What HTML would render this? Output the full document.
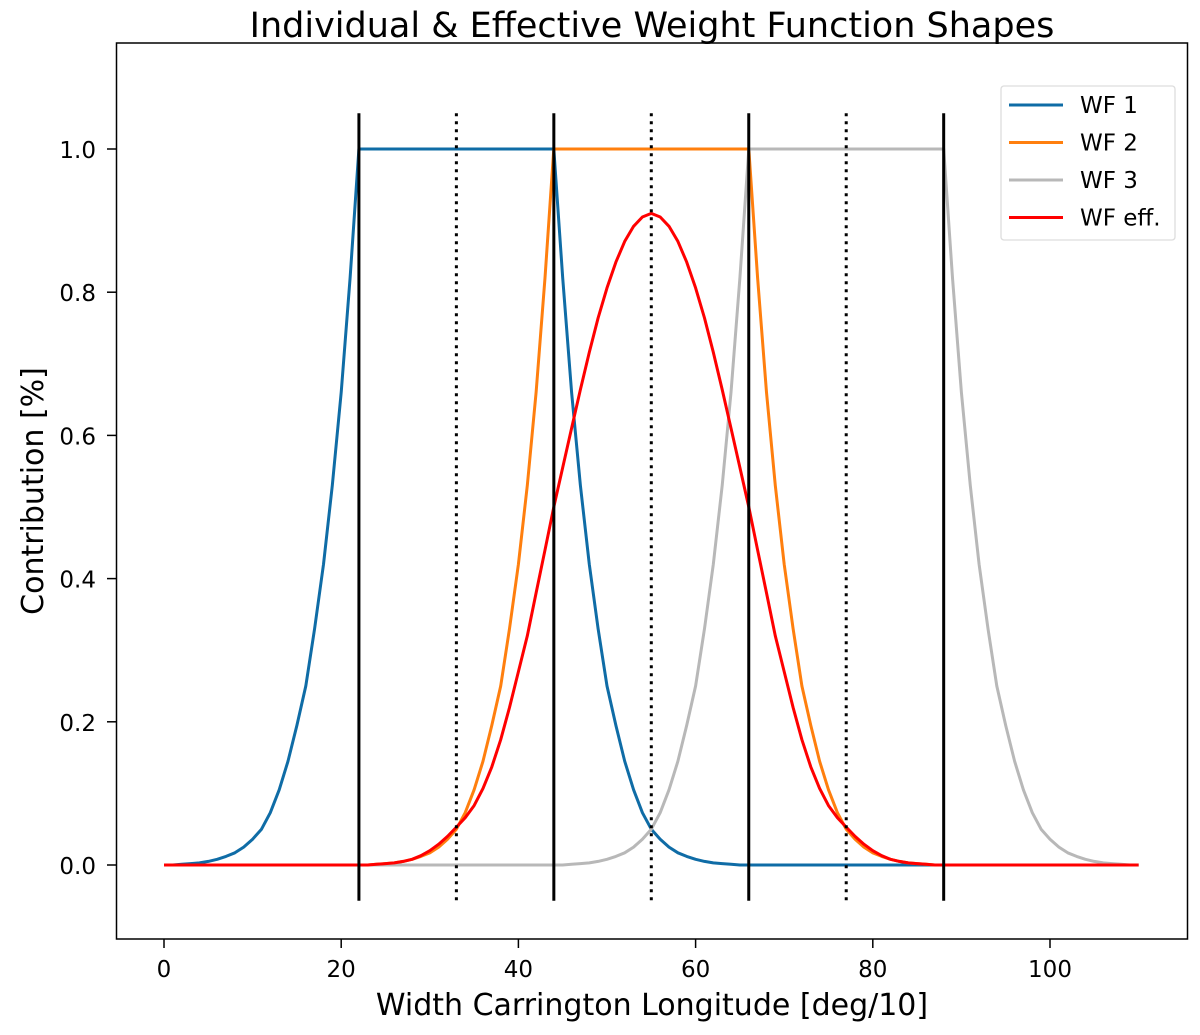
<!DOCTYPE html>
<html><head><meta charset="utf-8"><style>
html,body{margin:0;padding:0;background:#fff;}
svg{display:block;font-family:"DejaVu Sans","Liberation Sans",sans-serif;}
</style></head><body>
<svg id="chart" width="1200" height="1035" viewBox="0 0 1200 1035">
<text x="652" y="37" font-size="35" text-anchor="middle">Individual &amp; Effective Weight Function Shapes</text>
<g id="plot"></g>
<text x="652" y="1015" font-size="30" text-anchor="middle">Width Carrington Longitude [deg/10]</text>
<text transform="translate(43,491) rotate(-90)" font-size="30" text-anchor="middle">Contribution [%]</text>
</svg>
<script>
const z10=[0,0,0,0,0,0,0,0,0,0];
const wf1=[0,0,.001,.002,.003,.005,.008,.012,.017,.025,
.036,.05,.073,.105,.145,.195,.25,.33,.42,.53,
.66,.82,1,1,1,1,1,1,1,1,
1,1,1,1,1,1,1,1,1,1,
1,1,1,1,1,.82,.66,.53,.42,.33,
.25,.195,.145,.105,.073,.05,.036,.025,.017,.012,
.008,.005,.003,.002,.001,0,0,0,0,0,
...z10,...z10,...z10,...z10,0];
const wf2=[...z10,...z10,
0,0,0,0,.001,.002,.003,.005,.008,.012,
.017,.025,.036,.05,.073,.105,.145,.195,.25,.33,
.42,.53,.66,.82,1,1,1,1,1,1,
1,1,1,1,1,1,1,1,1,1,
1,1,1,1,1,1,1,.82,.66,.53,
.42,.33,.25,.195,.145,.105,.073,.05,.036,.025,
.017,.012,.008,.005,.003,.002,.001,0,0,0,
...z10,...z10,0];
const wf3=[...z10,...z10,...z10,...z10,
0,0,0,0,0,0,.001,.002,.003,.005,
.008,.012,.017,.025,.036,.05,.073,.105,.145,.195,
.25,.33,.42,.53,.66,.82,1,1,1,1,
1,1,1,1,1,1,1,1,1,1,
1,1,1,1,1,1,1,1,1,.82,
.66,.53,.42,.33,.25,.195,.145,.105,.073,.05,
.036,.025,.017,.012,.008,.005,.003,.002,.001,0,0];
const wfEff=[...z10,...z10,
0,0,0,0,.001,.002,.003,.005,.008,.013,
.02,.029,.04,.053,.066,.083,.107,.137,.175,.22,
.27,.32,.38,.44,.50,.555,.61,.664,.716,.764,
.806,.842,.871,.892,.905,.91,.905,.892,.871,.842,
.806,.764,.716,.664,.61,.555,.50,.44,.38,.32,
.27,.22,.175,.137,.107,.083,.066,.053,.04,.029,
.02,.013,.008,.005,.003,.002,.001,0,0,0,
...z10,...z10,0];
const solidLines=[22,44,66,88];
const dottedLines=[33,55,77];
const xTicks=[0,20,40,60,80,100];
const yTicks=[0,0.2,0.4,0.6,0.8,1.0];
const seriesNames=["WF 1","WF 2","WF 3","WF eff."];
const seriesColors=["#0f6ca6","#ff7f0e","#b8b8b8","#ff0000"];

const NS="http://www.w3.org/2000/svg";
const X=v=>164+v*8.86;
const Y=v=>865-v*716;
const plot=document.getElementById('plot');
function el(tag,attrs,parent){const e=document.createElementNS(NS,tag);for(const k in attrs)e.setAttribute(k,attrs[k]);(parent||plot).appendChild(e);return e;}

const frame=el('rect',{x:116.5,y:43,width:1071,height:896,fill:'none',stroke:'#000','stroke-width':1.5});


xTicks.forEach(t=>{
  const l=el('line',{x1:X(t),x2:X(t),y1:939,y2:948,stroke:'#000','stroke-width':1.5});
  
  
  const tx=el('text',{x:X(t),y:977,'font-size':23,'text-anchor':'middle'});tx.textContent=t;
  
  
});
yTicks.forEach(t=>{
  const l=el('line',{x1:107,x2:116.5,y1:Y(t),y2:Y(t),stroke:'#000','stroke-width':1.5});
  
  
  const tx=el('text',{x:96,y:Y(t)+9,'font-size':23,'text-anchor':'end'});tx.textContent=t.toFixed(1);
  
  
});
const all=[wf1,wf2,wf3,wfEff];
all.forEach((s,i)=>{
  const pts=s.map((v,k)=>X(k).toFixed(1)+','+Y(v).toFixed(1)).join(' ');
  const p=el('polyline',{points:pts,fill:'none',stroke:seriesColors[i],'stroke-width':3,'stroke-linejoin':'round'});
  
  
});
solidLines.forEach(v=>{
  const l=el('line',{x1:X(v),x2:X(v),y1:Y(1.05),y2:Y(-0.05),stroke:'#000','stroke-width':3});
  
  
});
dottedLines.forEach(v=>{
  const l=el('line',{x1:X(v),x2:X(v),y1:Y(1.05),y2:Y(-0.05),stroke:'#000','stroke-width':3,'stroke-dasharray':'3,5'});
  
  
});
const lg=el('g',{});


el('rect',{x:1001,y:86,width:174,height:154,rx:3,fill:'#fff',stroke:'#ddd','stroke-width':1.3},lg);
seriesNames.forEach((n,i)=>{
  const yy=105+i*37.5;
  const g=el('g',{},lg);
  
  
  el('line',{x1:1009,x2:1063,y1:yy,y2:yy,stroke:seriesColors[i],'stroke-width':3},g);
  const t=el('text',{x:1080,y:yy+8,'font-size':23},g);t.textContent=n;
});
</script>
</body></html>
